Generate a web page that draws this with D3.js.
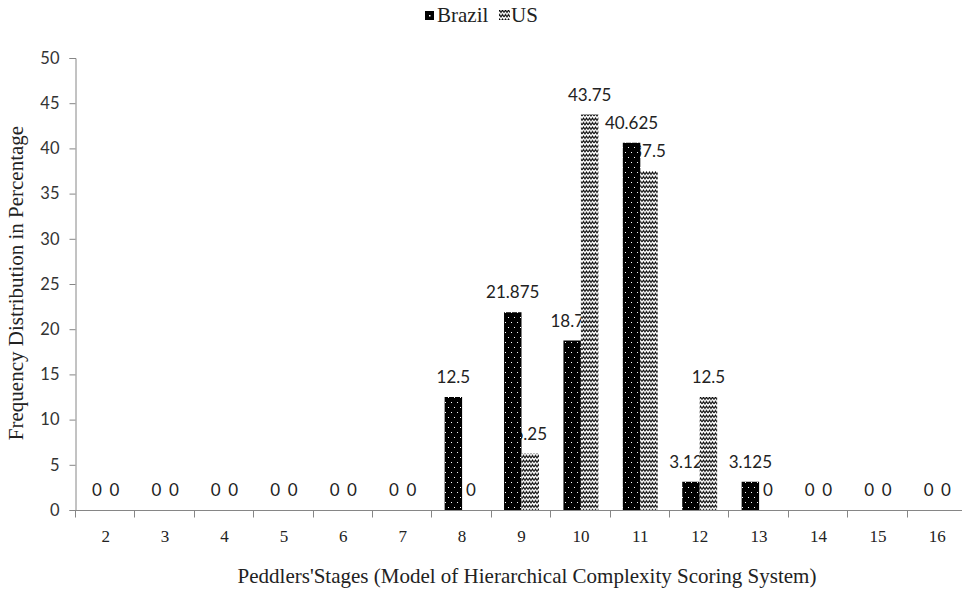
<!DOCTYPE html>
<html>
<head>
<meta charset="utf-8">
<script src="https://cdn.jsdelivr.net/npm/d3@7/dist/d3.min.js"></script>
<style>
  html, body { margin: 0; padding: 0; background: #fff; }
  svg { display: block; }
</style>
</head>
<body>
<svg id="chart" width="962" height="590"></svg>
<script>
const categories = ["2","3","4","5","6","7","8","9","10","11","12","13","14","15","16"];
const brazil = [0,0,0,0,0,0,12.5,21.875,18.75,40.625,3.125,3.125,0,0,0];
const us     = [0,0,0,0,0,0,0,6.25,43.75,37.5,12.5,0,0,0,0];
const seriesNames = ["Brazil","US"];
const yTicks = [0,5,10,15,20,25,30,35,40,45,50];

const svg = d3.select("#chart");
const defs = svg.append("defs");

// Brazil pattern: black with white dots
const pB = defs.append("pattern").attr("id","patBrazil").attr("patternUnits","userSpaceOnUse")
  .attr("width",6).attr("height",10);
pB.append("rect").attr("width",6).attr("height",10).attr("fill","#000");
pB.append("rect").attr("x",1).attr("y",2).attr("width",1).attr("height",1).attr("fill","#fff");
pB.append("rect").attr("x",4).attr("y",7).attr("width",1).attr("height",1).attr("fill","#fff");

// US pattern: white with black zigzag
const pU = defs.append("pattern").attr("id","patUS").attr("patternUnits","userSpaceOnUse")
  .attr("width",6).attr("height",4.5);
pU.append("rect").attr("width",6).attr("height",4.5).attr("fill","#fff");
pU.append("path").attr("d","M0,3.5 L1.5,1 L3,3.5 L4.5,1 L6,3.5").attr("fill","none")
  .attr("stroke","#000").attr("stroke-width",1);

const x0 = 76, x1 = 967, yTop = 58, yBot = 510;
const x = d3.scaleBand().domain(categories).range([x0, x1]).paddingInner(0).paddingOuter(0);
const bw = x.bandwidth() / 3.4;
const y = d3.scaleLinear().domain([0, 50]).range([yBot, yTop]);

const axisColor = "#868686";
const serif = "'Liberation Serif', 'Times New Roman', serif";
const sans = "Lato, 'Open Sans', sans-serif";

// Y axis
const yAxis = svg.append("g").attr("transform", `translate(${x0 - 0.5},0)`)
  .call(d3.axisLeft(y).tickValues(yTicks).tickSize(6).tickPadding(10));
yAxis.select(".domain").attr("stroke", axisColor);
yAxis.selectAll(".tick line").attr("stroke", axisColor);
yAxis.selectAll(".tick text").attr("font-family", sans).attr("font-size", 16.5).attr("fill", "#333");

// X axis with boundary ticks
const xg = svg.append("g").attr("transform", `translate(0,${yBot + 0.5})`);
xg.append("line").attr("x1", x0 - 6).attr("x2", x1).attr("y1", 0).attr("y2", 0).attr("stroke", axisColor);
const bounds = categories.map(c => x(c)).concat([x1]);
xg.selectAll("line.tk").data(bounds).enter().append("line").attr("class","tk")
  .attr("x1", d => Math.round(d) - 0.5).attr("x2", d => Math.round(d) - 0.5)
  .attr("y1", 0).attr("y2", 7).attr("stroke", axisColor);
xg.selectAll("text").data(categories).enter().append("text")
  .attr("x", d => x(d) + x.bandwidth()/2).attr("y", 31)
  .attr("text-anchor","middle").attr("font-family", serif).attr("font-size", 17).attr("fill", "#222")
  .text(d => d);

// Data
const data = [];
categories.forEach((c, i) => {
  data.push({cat: c, s: 0, v: brazil[i]});
  data.push({cat: c, s: 1, v: us[i]});
});
const bx = d => x(d.cat) + x.bandwidth()/2 - bw + d.s * bw;

// labels first (bars drawn over them, as in reference)
svg.append("g").selectAll("text").data(data).enter().append("text")
  .attr("x", d => bx(d) + bw/2)
  .attr("y", d => y(d.v) - 14)
  .attr("text-anchor","middle").attr("font-family", sans).attr("font-size", 17).attr("fill","#222")
  .text(d => d.v);

svg.append("g").selectAll("rect").data(data.filter(d => d.v > 0)).enter().append("rect")
  .attr("x", d => bx(d)).attr("width", bw)
  .attr("y", d => y(d.v)).attr("height", d => yBot - y(d.v))
  .attr("fill", d => d.s === 0 ? "url(#patBrazil)" : "url(#patUS)");

// Legend
const lg = svg.append("g");
lg.append("rect").attr("x", 425).attr("y", 11).attr("width", 9).attr("height", 9).attr("fill","#000");
lg.append("rect").attr("x", 429).attr("y", 15).attr("width", 1.5).attr("height", 1.5).attr("fill","#fff");
lg.append("text").attr("x", 437).attr("y", 22).attr("font-family", serif).attr("font-size", 21).attr("fill","#222").text(seriesNames[0]);
lg.append("rect").attr("x", 499).attr("y", 10).attr("width", 11).attr("height", 10).attr("fill","url(#patUS)");
lg.append("text").attr("x", 511).attr("y", 22).attr("font-family", serif).attr("font-size", 21).attr("fill","#222").text(seriesNames[1]);

// Axis titles
svg.append("text").attr("x", 527).attr("y", 583).attr("text-anchor","middle")
  .attr("font-family", serif).attr("font-size", 21).attr("fill","#222")
  .text("Peddlers'Stages (Model of Hierarchical Complexity Scoring System)");
svg.append("text").attr("transform","translate(23,283) rotate(-90)").attr("text-anchor","middle")
  .attr("font-family", serif).attr("font-size", 21).attr("fill","#222")
  .text("Frequency Distribution in Percentage");
</script>
</body>
</html>
